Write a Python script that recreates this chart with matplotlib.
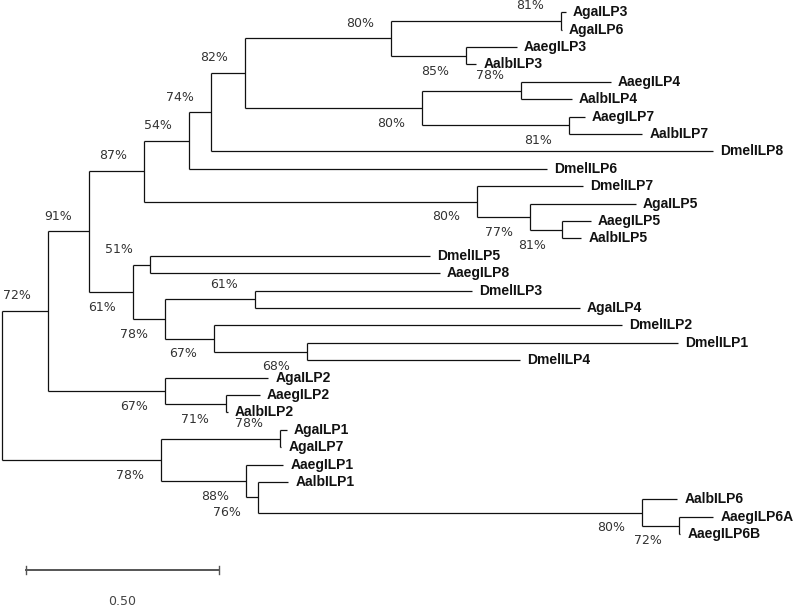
import matplotlib
matplotlib.use("Agg")
import matplotlib.pyplot as plt
from matplotlib.collections import LineCollection

# ---------------- data ----------------
# Tree topology with branch lengths (substitutions/site) and bootstrap support (%)
newick = (
    "(((((((((AgaILP3:0.013,AgaILP6:0.003)81:0.440,(AaegILP3:0.132,AalbILP3:0.028)85:0.194)80:0.378,"
    "((AaegILP4:0.233,AalbILP4:0.132)78:0.256,(AaegILP7:0.041,AalbILP7:0.189)81:0.381)80:0.459)82:0.088,"
    "DmelILP8:1.301)74:0.057,DmelILP6:0.927)54:0.117,"
    "(DmelILP7:0.275,(AgaILP5:0.275,(AaegILP5:0.073,AalbILP5:0.049)81:0.085)77:0.137)80:0.863)87:0.142,"
    "((DmelILP5:0.725,AaegILP8:0.751)51:0.044,"
    "((DmelILP3:0.562,AgaILP4:0.842)61:0.233,"
    "(DmelILP2:1.057,(DmelILP1:0.961,DmelILP4:0.552)68:0.241)67:0.127)78:0.083)61:0.114)91:0.106,"
    "(AgaILP2:0.267,(AaegILP2:0.088,AalbILP2:0.005)71:0.158)67:0.303)72:0.119,"
    "((AgaILP1:0.018,AgaILP7:0.003)78:0.308,"
    "(AaegILP1:0.096,(AalbILP1:0.078,(AalbILP6:0.091,(AaegILP6A:0.088,AaegILP6B:0.003)72:0.096)80:0.995)76:0.031)88:0.220)78:0.412);"
)
# whether each bootstrap label sits above (True) or below (False) its node, in pre-order
label_above = [True, True, True, True, True, True, True, True, False, False, True, False,
               False, False, False, False, True, False, True, False, False, False, False,
               False, True, False, False, False, False]
scale_length = 0.50
scale_label = "0.50"


# ---------------- parse ----------------
def parse(s):
    s = s.strip().rstrip(";")
    pos = 0

    def node():
        nonlocal pos
        n = {"children": [], "name": "", "bl": 0.0}
        if s[pos] == "(":
            pos += 1
            while True:
                n["children"].append(node())
                if s[pos] == ",":
                    pos += 1
                    continue
                if s[pos] == ")":
                    pos += 1
                    break
        start = pos
        while pos < len(s) and s[pos] not in ",():":
            pos += 1
        n["name"] = s[start:pos]
        if pos < len(s) and s[pos] == ":":
            pos += 1
            start = pos
            while pos < len(s) and s[pos] not in ",()":
                pos += 1
            n["bl"] = float(s[start:pos])
        return n

    return node()


root = parse(newick)

leaves = []
def layout(n, depth):
    n["x"] = depth + n["bl"]
    if not n["children"]:
        n["y"] = len(leaves)
        leaves.append(n)
    else:
        for c in n["children"]:
            layout(c, n["x"])
        n["y"] = 0.5 * (n["children"][0]["y"] + n["children"][-1]["y"])

root["bl"] = 0.0
layout(root, 0.0)

internal = []
def preorder(n, is_root=False):
    if n["children"]:
        if not is_root:
            internal.append(n)
        for c in n["children"]:
            preorder(c)
preorder(root, True)

# ---------------- draw ----------------
fig = plt.figure(figsize=(7.97, 6.08), dpi=100)
ax = fig.add_axes([0, 0, 1, 1])
px = 1 / 386.0          # one pixel in branch-length units
ax.set_xlim(-2 * px, 795 * px)
row = 17.4
ax.set_ylim((608 - 12.3) / row, -12.3 / row)
ax.axis("off")

segs = []
def collect(n):
    if n["children"]:
        segs.append([(n["x"], n["children"][0]["y"]), (n["x"], n["children"][-1]["y"])])
        for c in n["children"]:
            segs.append([(n["x"], c["y"]), (c["x"], c["y"])])
            collect(c)
collect(root)
ax.add_collection(LineCollection(segs, colors="#111111", linewidths=0.9))

for lf in leaves:
    ax.annotate(lf["name"], xy=(lf["x"], lf["y"]), xytext=(5.2, 0), textcoords="offset points",
                ha="left", va="center", fontsize=10, fontweight="bold",
                family="Liberation Sans", color="#111111")

for n, above in zip(internal, label_above):
    dy = 11 if above else -11
    ax.annotate(n["name"] + "%", xy=(n["x"], n["y"]), xytext=(-12.2, dy), textcoords="offset points",
                ha="right", va="center", fontsize=9, family="DejaVu Sans", color="#333333")

# scale bar
sb_x0 = 24 * px
sb_y = (570 - 12.3) / row
ax.plot([sb_x0, sb_x0 + scale_length], [sb_y, sb_y], color="#555555", lw=1.4)
for xx in (sb_x0, sb_x0 + scale_length):
    ax.plot([xx, xx], [sb_y - 0.25, sb_y + 0.25], color="#555555", lw=1.0)
ax.text(sb_x0 + scale_length / 2, (602 - 12.3) / row, scale_label, ha="center", va="center",
        fontsize=9, family="DejaVu Sans", color="#444444")

fig.savefig("out.png", dpi=100)
